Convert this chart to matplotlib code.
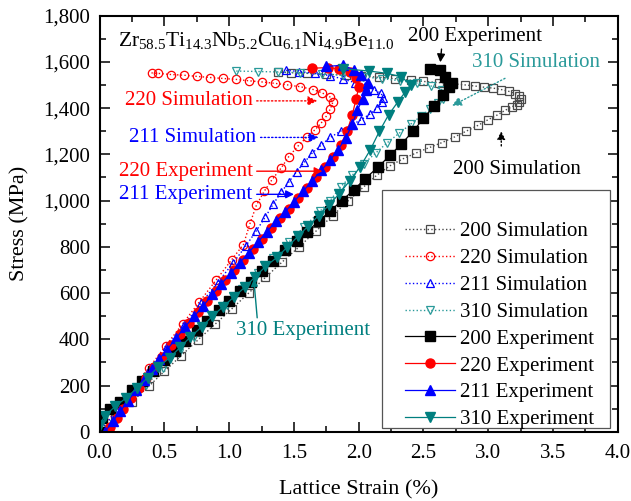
import matplotlib
matplotlib.use("Agg")
import matplotlib.pyplot as plt
from matplotlib.ticker import MultipleLocator, FuncFormatter
from matplotlib.patches import Rectangle

plt.rcParams['font.family'] = ['Liberation Serif', 'DejaVu Serif']
plt.rcParams['mathtext.fontset'] = 'custom'
plt.rcParams['mathtext.rm'] = 'Liberation Serif'
plt.rcParams['mathtext.it'] = 'Liberation Serif:italic'
plt.rcParams['mathtext.default'] = 'regular'

# ---------------- data ----------------
sim200_strain = [0.0, 0.12, 0.25, 0.38, 0.50, 0.63, 0.76, 0.89, 1.02, 1.15, 1.28, 1.41, 1.54, 1.67, 1.80, 1.92,
                 2.04, 2.14, 2.24, 2.34, 2.44, 2.54, 2.64, 2.74, 2.83, 2.92, 3.00, 3.07, 3.13, 3.18, 3.22, 3.24,
                 3.25, 3.24, 3.21, 3.16, 3.10, 3.04, 2.97, 2.90, 2.82, 2.73, 2.62, 2.50, 2.40, 2.28, 2.16, 2.02,
                 1.90, 1.75, 1.60, 1.48, 1.38]
sim200_stress = [0, 62, 130, 198, 262, 330, 398, 465, 532, 600, 668, 735, 800, 868, 935, 1000,
                 1060, 1110, 1150, 1180, 1205, 1228, 1250, 1275, 1300, 1325, 1350, 1370, 1390, 1405, 1415, 1428,
                 1440, 1452, 1462, 1472, 1480, 1486, 1490, 1495, 1500, 1505, 1510, 1515, 1520, 1527, 1533, 1538,
                 1542, 1546, 1550, 1553, 1555]

sim220_strain = [0.0, 0.12, 0.25, 0.38, 0.51, 0.64, 0.77, 0.90, 1.02, 1.11, 1.16, 1.21, 1.27, 1.33, 1.40, 1.46,
                 1.53, 1.60, 1.66, 1.71, 1.75, 1.78, 1.80, 1.78, 1.72, 1.65, 1.55, 1.45, 1.35, 1.25, 1.15, 1.05,
                 0.95, 0.85, 0.75, 0.65, 0.55, 0.45, 0.40]
sim220_stress = [0, 88, 183, 277, 372, 467, 562, 657, 745, 810, 900, 980, 1040, 1090, 1140, 1190,
                 1235, 1275, 1305, 1335, 1365, 1395, 1425, 1447, 1465, 1480, 1492, 1500, 1507, 1513, 1518, 1524,
                 1528, 1532, 1537, 1542, 1545, 1550, 1552]

sim211_strain = [0.0, 0.13, 0.26, 0.39, 0.52, 0.65, 0.78, 0.91, 1.03, 1.13, 1.21, 1.28, 1.34, 1.40, 1.46, 1.52,
                 1.58, 1.64, 1.71, 1.78, 1.86, 1.94, 2.02, 2.09, 2.14, 2.18, 2.19, 2.17, 2.12, 2.05, 1.97, 1.88,
                 1.78, 1.66, 1.54, 1.44]
sim211_stress = [0, 92, 185, 277, 370, 462, 555, 645, 730, 805, 870, 930, 985, 1035, 1080, 1125,
                 1165, 1205, 1240, 1273, 1300, 1325, 1350, 1375, 1400, 1425, 1445, 1465, 1480, 1495, 1510, 1525,
                 1540, 1550, 1558, 1563]

sim310_strain = [0.0, 0.12, 0.24, 0.36, 0.49, 0.61, 0.73, 0.86, 0.98, 1.10, 1.22, 1.34, 1.46, 1.58, 1.70, 1.78,
                 1.86, 1.95, 2.04, 2.13, 2.22, 2.31, 2.40, 2.48, 2.55, 2.61, 2.65, 2.67, 2.64, 2.56, 2.45, 2.32,
                 2.18, 2.03, 1.88, 1.72, 1.55, 1.38, 1.22, 1.05]
sim310_stress = [0, 68, 136, 204, 275, 343, 410, 482, 550, 617, 685, 752, 820, 887, 953, 1000,
                 1060, 1110, 1160, 1205, 1250, 1290, 1330, 1365, 1395, 1420, 1440, 1460, 1480, 1495, 1508, 1518,
                 1527, 1535, 1542, 1548, 1553, 1556, 1558, 1560]

exp200_strain = [0.0, 0.02, 0.08, 0.16, 0.25, 0.33, 0.41, 0.50, 0.58, 0.66, 0.75, 0.83, 0.92, 1.00, 1.08, 1.17,
                 1.25, 1.34, 1.43, 1.52, 1.60, 1.69, 1.78, 1.87, 1.96, 2.05, 2.15, 2.24, 2.33, 2.42, 2.50, 2.58,
                 2.65, 2.70, 2.72, 2.67, 2.63, 2.55]
exp200_stress = [0, 60, 100, 130, 180, 222, 265, 310, 350, 395, 440, 480, 525, 565, 610, 650,
                 695, 740, 785, 825, 865, 910, 955, 1000, 1045, 1095, 1145, 1195, 1245, 1300, 1355, 1410,
                 1455, 1490, 1510, 1535, 1565, 1570]

exp220_strain = [0.08, 0.13, 0.18, 0.24, 0.30, 0.36, 0.42, 0.48, 0.55, 0.62, 0.69, 0.76, 0.83, 0.90, 0.97, 1.04,
                 1.11, 1.18, 1.25, 1.32, 1.39, 1.46, 1.53, 1.60, 1.67, 1.74, 1.80, 1.86, 1.91, 1.95, 1.98, 2.00,
                 1.98, 1.93, 1.85, 1.76, 1.64]
exp220_stress = [20, 60, 100, 145, 190, 235, 280, 325, 375, 425, 470, 520, 565, 610, 655, 700,
                 745, 790, 835, 880, 925, 965, 1010, 1055, 1100, 1145, 1190, 1240, 1300, 1370, 1440, 1490,
                 1530, 1555, 1570, 1575, 1572]

exp211_strain = [0.04, 0.10, 0.16, 0.22, 0.28, 0.34, 0.40, 0.46, 0.52, 0.59, 0.66, 0.73, 0.80, 0.87, 0.94, 1.01,
                 1.08, 1.15, 1.22, 1.29, 1.36, 1.43, 1.50, 1.57, 1.64, 1.71, 1.78, 1.84, 1.90, 1.95, 1.99, 2.03,
                 2.06, 2.07, 2.02, 1.96, 1.88, 1.75]
exp211_stress = [0, 45, 90, 135, 180, 225, 270, 315, 355, 405, 455, 500, 545, 595, 640, 685,
                 730, 775, 820, 865, 910, 950, 995, 1040, 1085, 1130, 1175, 1220, 1270, 1330, 1390, 1440,
                 1480, 1510, 1545, 1565, 1585, 1580]

exp310_strain = [0.0, 0.04, 0.12, 0.20, 0.29, 0.37, 0.45, 0.54, 0.62, 0.70, 0.79, 0.87, 0.95, 1.04, 1.12, 1.20,
                 1.28, 1.37, 1.45, 1.53, 1.61, 1.69, 1.77, 1.85, 1.93, 2.01, 2.09, 2.16, 2.23, 2.30, 2.36, 2.40,
                 2.33, 2.22, 2.08, 1.88]
exp310_stress = [30, 70, 110, 145, 190, 235, 280, 320, 365, 410, 455, 500, 540, 585, 625, 670,
                 715, 755, 800, 845, 890, 935, 980, 1030, 1085, 1145, 1220, 1300, 1370, 1425, 1470, 1500,
                 1535, 1550, 1560, 1570]

x_ticks = [0.0, 0.5, 1.0, 1.5, 2.0, 2.5, 3.0, 3.5, 4.0]
y_ticks = [0, 200, 400, 600, 800, 1000, 1200, 1400, 1600, 1800]

# ---------------- styles ----------------
BLACK = '#000000'
GREY = '#4a4a4a'
RED = '#ff0000'
BLUE = '#0000ff'
TEAL = '#007f7f'
TEAL_L = '#2a9a9a'

fig = plt.figure(figsize=(6.31, 5.01), dpi=100)
ax = fig.add_axes([0.158, 0.138, 0.821, 0.831])

sim_kw = dict(linestyle=':', linewidth=1.0, markersize=6, markerfacecolor='none', markeredgewidth=0.9)
ax.plot(sim200_strain, sim200_stress, marker='s', color=GREY, label='200 Simulation', **sim_kw)
ax.plot(sim220_strain, sim220_stress, marker='o', color=RED, label='220 Simulation', **sim_kw)
ax.plot(sim211_strain, sim211_stress, marker='^', color=BLUE, label='211 Simulation', **sim_kw)
ax.plot(sim310_strain, sim310_stress, marker='v', color=TEAL_L, label='310 Simulation', **sim_kw)

exp_kw = dict(linestyle='-', linewidth=0.9, markersize=6.5)
ax.plot(exp200_strain, exp200_stress, marker='s', color=BLACK, label='200 Experiment', **exp_kw)
ax.plot(exp220_strain, exp220_stress, marker='o', color=RED, label='220 Experiment', **exp_kw)
ax.plot(exp211_strain, exp211_stress, marker='^', color=BLUE, label='211 Experiment', **exp_kw)
ax.plot(exp310_strain, exp310_stress, marker='v', color=TEAL, label='310 Experiment', **exp_kw)

ax.set_xlim(0, 4.0)
ax.set_ylim(0, 1800)
ax.set_xticks(x_ticks)
ax.set_yticks(y_ticks)
ax.xaxis.set_minor_locator(MultipleLocator(0.25))
ax.yaxis.set_minor_locator(MultipleLocator(100))
ax.xaxis.set_major_formatter(FuncFormatter(lambda v, p: f'{v:.1f}'))
ax.yaxis.set_major_formatter(FuncFormatter(lambda v, p: f'{v:,.0f}'))
ax.tick_params(which='both', direction='in', top=True, right=True, labelsize=15, width=1.1)
ax.tick_params(which='major', length=7)
ax.tick_params(which='minor', length=4)
ax.tick_params(axis='x', which='major', pad=9)
ax.tick_params(axis='y', which='major', pad=7)
for s in ax.spines.values():
    s.set_linewidth(1.5)

ax.set_xlabel('Lattice Strain (%)', fontsize=16, labelpad=12)
ax.set_ylabel('Stress (MPa)', fontsize=16, labelpad=10)

ax.text(0.14, 1692, r'Zr$_{58.5}$Ti$_{14.3}$Nb$_{5.2}$Cu$_{6.1}$Ni$_{4.9}$Be$_{11.0}$',
        fontsize=15.5, ha='left', va='center')

fs = 15
# annotations
ax.annotate('200 Experiment', xy=(2.63, 1598), xytext=(2.90, 1708), fontsize=fs, color=BLACK,
            ha='center', va='center',
            arrowprops=dict(arrowstyle='-|>', color=BLACK, lw=1.0, mutation_scale=12, shrinkA=0, shrinkB=0,
                            relpos=(0.25, 0.0)))
ax.annotate('310 Simulation', xy=(2.72, 1410), xytext=(3.37, 1598), fontsize=fs, color=TEAL_L,
            ha='center', va='center',
            arrowprops=dict(arrowstyle='-|>', color=TEAL_L, lw=1.0, linestyle=':', mutation_scale=14,
                            shrinkA=6, shrinkB=0))
ax.annotate('200 Simulation', xy=(3.10, 1300), xytext=(3.22, 1135), fontsize=fs, color=BLACK,
            ha='center', va='center',
            arrowprops=dict(arrowstyle='-|>', color=BLACK, lw=1.0, linestyle=':', mutation_scale=12,
                            shrinkA=8, shrinkB=0, relpos=(0.38, 1.0)))
ax.annotate('220 Simulation', xy=(1.68, 1431), xytext=(1.18, 1431), fontsize=fs, color=RED,
            ha='right', va='center',
            arrowprops=dict(arrowstyle='-|>', color=RED, lw=1.0, linestyle=':', mutation_scale=14,
                            shrinkA=1, shrinkB=0, relpos=(1.0, 0.5)))
ax.annotate('211 Simulation', xy=(1.69, 1273), xytext=(1.21, 1273), fontsize=fs, color=BLUE,
            ha='right', va='center',
            arrowprops=dict(arrowstyle='-|>', color=BLUE, lw=1.0, linestyle=':', mutation_scale=14,
                            shrinkA=1, shrinkB=0, relpos=(1.0, 0.5)))
ax.annotate('220 Experiment', xy=(1.72, 1127), xytext=(1.18, 1127), fontsize=fs, color=RED,
            ha='right', va='center',
            arrowprops=dict(arrowstyle='-|>', color=RED, lw=1.0, mutation_scale=12,
                            shrinkA=1, shrinkB=0, relpos=(1.0, 0.5)))
ax.annotate('211 Experiment', xy=(1.50, 1027), xytext=(1.18, 1027), fontsize=fs, color=BLUE,
            ha='right', va='center',
            arrowprops=dict(arrowstyle='-|>', color=BLUE, lw=1.0, mutation_scale=12,
                            shrinkA=1, shrinkB=0, relpos=(1.0, 0.5)))
ax.annotate('310 Experiment', xy=(1.19, 660), xytext=(1.57, 440), fontsize=fs, color=TEAL,
            ha='center', va='center',
            arrowprops=dict(arrowstyle='-|>', color=TEAL, lw=1.0, mutation_scale=10,
                            shrinkA=0, shrinkB=0, relpos=(0.16, 1.0), connectionstyle='arc3,rad=0'))

# legend frame drawn as a separate box, legend itself without frame
frame = Rectangle((0.544, 0.010), 0.441, 0.572, transform=ax.transAxes, facecolor='white',
                  edgecolor='#555555', linewidth=0.9, zorder=4.5)
ax.add_patch(frame)
leg = ax.legend(loc='upper left', bbox_to_anchor=(0.589, 0.505), fontsize=fs, frameon=False,
                labelspacing=0.35, handlelength=2.4, handletextpad=0.25,
                borderpad=0.0, borderaxespad=0)
leg.set_zorder(5)

fig.savefig('out.png', dpi=100)
